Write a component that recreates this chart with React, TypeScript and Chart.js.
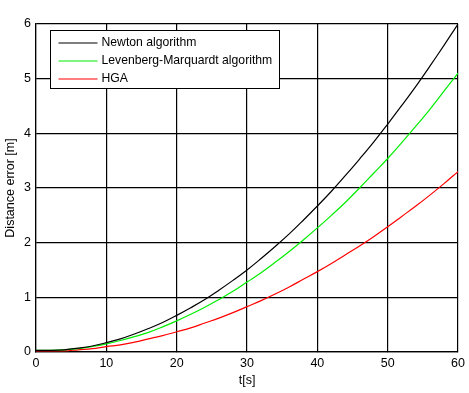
import React, { useEffect, useRef } from "react";
import { Chart, registerables } from "chart.js";

Chart.register(...registerables);

const tSeconds = [0, 2, 4, 6, 8, 10, 12, 14, 16, 18, 20, 22, 24, 26, 28, 30, 32, 34, 36, 38, 40, 42, 44, 46, 48, 50, 52, 54, 56, 58, 60];
const newtonValues = [0.03, 0.03, 0.04, 0.07, 0.11, 0.17, 0.24, 0.33, 0.43, 0.54, 0.67, 0.81, 0.96, 1.13, 1.31, 1.5, 1.71, 1.93, 2.16, 2.41, 2.67, 2.94, 3.23, 3.53, 3.84, 4.17, 4.51, 4.86, 5.23, 5.61, 6.0];
const lmValues = [0.03, 0.03, 0.04, 0.06, 0.1, 0.15, 0.21, 0.28, 0.36, 0.46, 0.57, 0.69, 0.82, 0.96, 1.11, 1.28, 1.45, 1.64, 1.84, 2.05, 2.27, 2.5, 2.74, 3.0, 3.27, 3.54, 3.83, 4.13, 4.44, 4.77, 5.1];
const hgaValues = [0.02, 0.02, 0.02, 0.04, 0.06, 0.1, 0.13, 0.18, 0.24, 0.3, 0.37, 0.44, 0.53, 0.62, 0.72, 0.83, 0.94, 1.06, 1.19, 1.33, 1.47, 1.62, 1.78, 1.94, 2.11, 2.29, 2.48, 2.67, 2.87, 3.08, 3.3];
const seriesLabels = ["Newton algorithm", "Levenberg-Marquardt algorithm", "HGA"];
const seriesColors = ["#000000", "#00ee00", "#ff0000"];

const FONT = "Liberation Sans, Arial, sans-serif";

const insideLegend = {
  id: "insideLegend",
  afterDraw(chart: any) {
    const ctx = chart.ctx;
    const area = chart.chartArea;
    const x0 = Math.round(area.left + 14) + 0.5;
    const y0 = Math.round(area.top + 6) + 0.5;
    const w = 229;
    const h = 58;
    ctx.save();
    ctx.fillStyle = "#ffffff";
    ctx.fillRect(x0, y0, w, h);
    ctx.strokeStyle = "#000000";
    ctx.lineWidth = 1;
    ctx.strokeRect(x0, y0, w, h);
    ctx.font = "12.2px " + FONT;
    ctx.textBaseline = "middle";
    chart.data.datasets.forEach((ds: any, i: number) => {
      const y = Math.round(y0 + 12 + i * 18);
      ctx.beginPath();
      ctx.strokeStyle = seriesColors[i];
      ctx.lineWidth = 1.2;
      ctx.moveTo(x0 + 8, y);
      ctx.lineTo(x0 + 47, y);
      ctx.stroke();
      ctx.fillStyle = "#000000";
      ctx.fillText(ds.label, x0 + 51, y);
    });
    ctx.restore();
  },
};

export default function App() {
  const ref = useRef<HTMLCanvasElement | null>(null);
  useEffect(() => {
    document.body.style.margin = "0";
    const canvas = ref.current!;
    const datasets = [newtonValues, lmValues, hgaValues].map((vals, i) => ({
      label: seriesLabels[i],
      data: tSeconds.map((t, j) => ({ x: t, y: vals[j] })),
      borderColor: seriesColors[i],
      borderWidth: 1.2,
      pointRadius: 0,
      tension: 0.4,
      fill: false,
    }));
    const chart = new Chart(canvas, {
      type: "line",
      data: { datasets },
      plugins: [insideLegend],
      options: {
        animation: false,
        responsive: false,
        maintainAspectRatio: false,
        layout: { padding: { top: 24, right: 10, left: 0, bottom: 0 } },
        plugins: { legend: { display: false }, tooltip: { enabled: false } },
        scales: {
          x: {
            type: "linear",
            min: 0,
            max: 60,
            ticks: { stepSize: 10, color: "#000", font: { family: FONT, size: 12.5 }, padding: 4 },
            grid: { color: "#000", lineWidth: 1.2, tickLength: 0 },
            border: { display: true, color: "#000", width: 1.2 },
            title: { display: true, text: "t[s]", color: "#000", font: { family: FONT, size: 12.5 }, padding: { top: 0, bottom: 5 } },
            afterFit: (s: any) => { s.height = 41; },
          },
          y: {
            type: "linear",
            min: 0,
            max: 6,
            ticks: { stepSize: 1, color: "#000", font: { family: FONT, size: 12.5 }, padding: 5 },
            grid: { color: "#000", lineWidth: 1.2, tickLength: 0 },
            border: { display: true, color: "#000", width: 1.2 },
            title: { display: true, text: "Distance error [m]", color: "#000", font: { family: FONT, size: 12.5 }, padding: { top: 3, bottom: 0 } },
            afterFit: (s: any) => { s.width = 36; },
          },
        },
      },
    });
    return () => chart.destroy();
  }, []);
  return <canvas ref={ref} width={469} height={393} style={{ display: "block" }} />;
}
